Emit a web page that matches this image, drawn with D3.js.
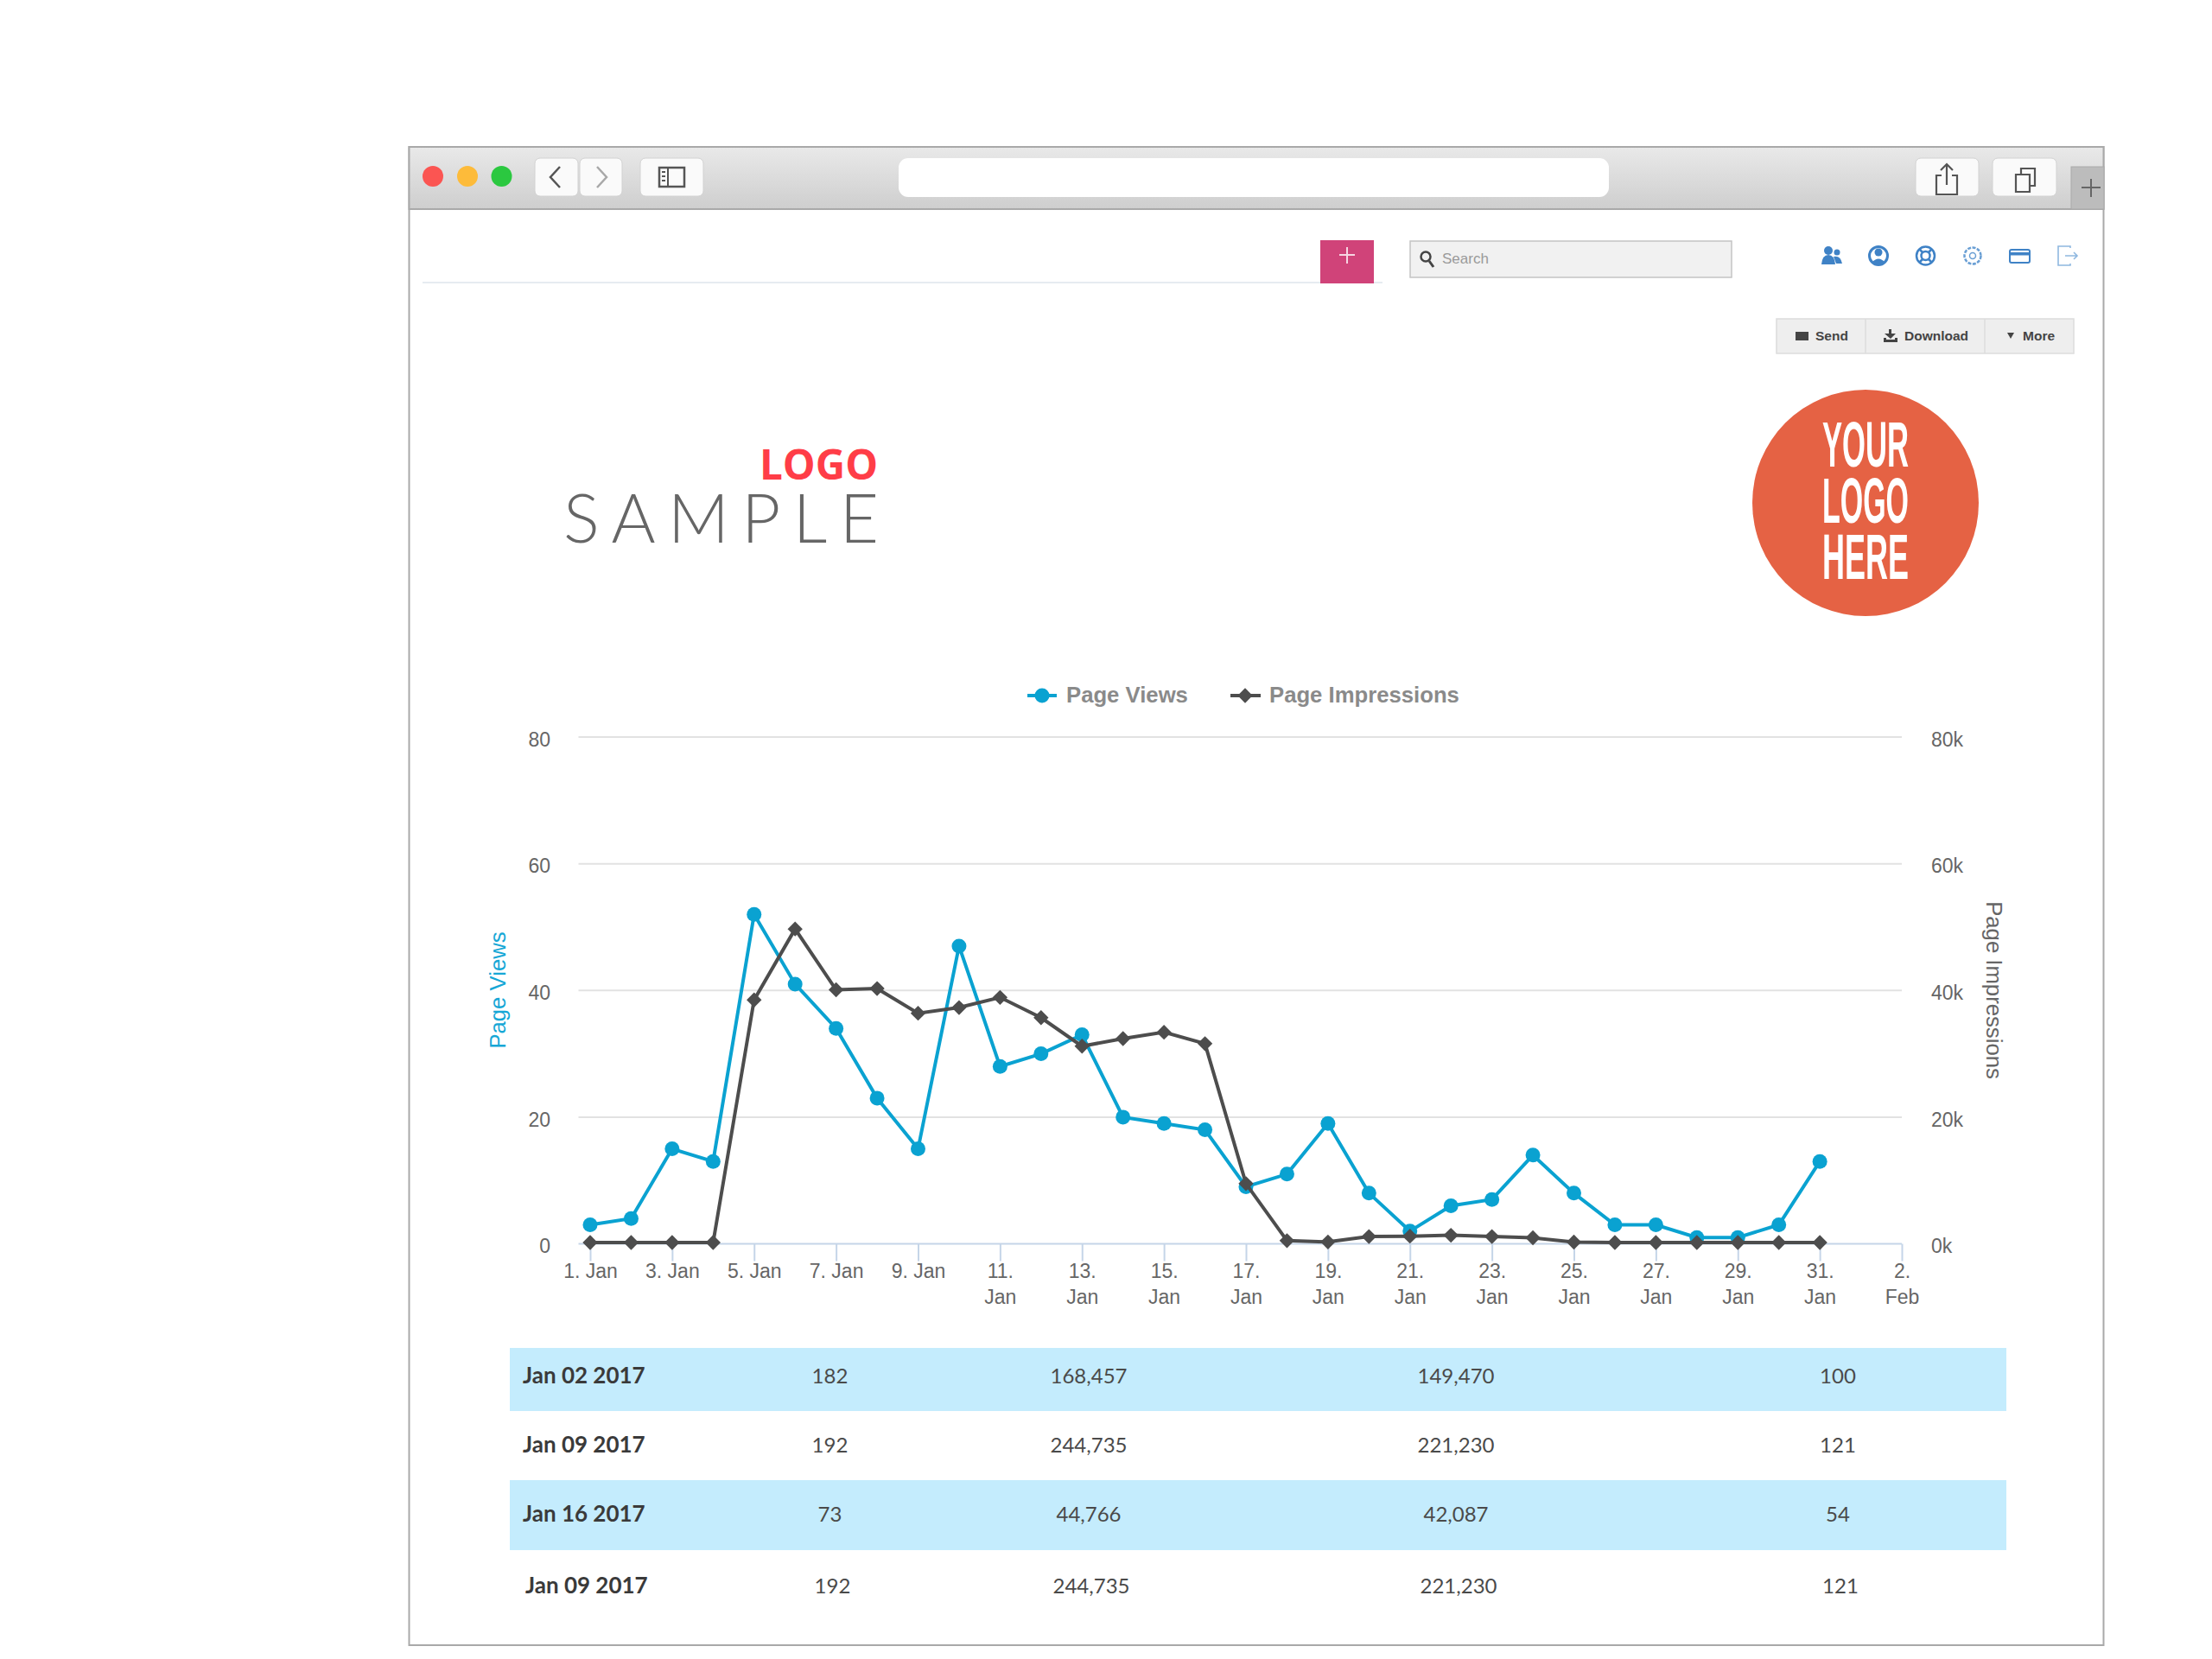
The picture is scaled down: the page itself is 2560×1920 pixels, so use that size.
<!DOCTYPE html>
<html>
<head>
<meta charset="utf-8">
<title>Page Views report</title>
<script src="https://cdn.jsdelivr.net/npm/d3@7/dist/d3.min.js"></script>
<style>
  html, body { margin: 0; padding: 0; background: #fff; }
  svg { display: block; }
  text { font-family: "Liberation Sans", Arial, sans-serif; }
  .axis path { display: none; }
</style>
</head>
<body>
<svg id="page" width="2560" height="1920"></svg>
<script>
// daily values, January 2017
const days = [1, 2, 3, 4, 5, 6, 7, 8, 9, 10, 11, 12, 13, 14, 15, 16, 17, 18, 19, 20, 21, 22, 23, 24, 25, 26, 27, 28, 29, 30, 31];
const pageViews = [3, 4, 15, 13, 52, 41, 34, 23, 15, 47, 28, 30, 33, 20, 19, 18, 9, 11, 19, 8, 2, 6, 7, 14, 8, 3, 3, 1, 1, 3, 13];
const pageImpressions = [200, 200, 200, 200, 38500, 49700, 40100, 40300, 36400, 37300, 38900, 35700, 31200, 32400, 33400, 31600, 9500, 500, 300, 1150, 1200, 1350, 1150, 950, 270, 200, 200, 200, 200, 200, 200];

const xTickDays = [1, 3, 5, 7, 9, 11, 13, 15, 17, 19, 21, 23, 25, 27, 29, 31, 33];
const xTickLabels = [['1. Jan'], ['3. Jan'], ['5. Jan'], ['7. Jan'], ['9. Jan'], ['11.', 'Jan'], ['13.', 'Jan'], ['15.', 'Jan'], ['17.', 'Jan'], ['19.', 'Jan'], ['21.', 'Jan'], ['23.', 'Jan'], ['25.', 'Jan'], ['27.', 'Jan'], ['29.', 'Jan'], ['31.', 'Jan'], ['2.', 'Feb']];
const leftTicks = [0, 20, 40, 60, 80];
const rightTicks = [0, 20000, 40000, 60000, 80000];

const tableDates = ['Jan 02 2017', 'Jan 09 2017', 'Jan 16 2017', 'Jan 09 2017'];
const tableCol1 = ['182', '192', '73', '192'];
const tableCol2 = ['168,457', '244,735', '44,766', '244,735'];
const tableCol3 = ['149,470', '221,230', '42,087', '221,230'];
const tableCol4 = ['100', '121', '54', '121'];

const blue = '#0aa2d1';
const dark = '#4d4d4d';
const svg = d3.select('#page');

// ---- browser window ----
const defs = svg.append('defs');
const grad = defs.append('linearGradient').attr('id', 'bar').attr('x1', 0).attr('x2', 0).attr('y1', 0).attr('y2', 1);
grad.append('stop').attr('offset', 0).attr('stop-color', '#e9e9e9');
grad.append('stop').attr('offset', 1).attr('stop-color', '#cecece');

svg.append('rect').attr('x', 473.5).attr('y', 170).attr('width', 1961).attr('height', 1734)
  .attr('fill', '#fff').attr('stroke', '#a9a9a9').attr('stroke-width', 2);
svg.append('rect').attr('x', 473.5).attr('y', 170).attr('width', 1961).attr('height', 72)
  .attr('fill', 'url(#bar)').attr('stroke', '#a9a9a9').attr('stroke-width', 2);

[[501, '#fb5552'], [541, '#fdbb3a'], [580.5, '#2bc840']].forEach(d => {
  svg.append('circle').attr('cx', d[0]).attr('cy', 204).attr('r', 12).attr('fill', d[1]);
});

function toolButton(x, w) {
  svg.append('rect').attr('x', x).attr('y', 183).attr('width', w).attr('height', 44).attr('rx', 6)
    .attr('fill', '#fafafa').attr('stroke', '#d2d2d2');
}
toolButton(619, 50);
toolButton(671, 49);
toolButton(741, 73);
toolButton(2217, 73);
toolButton(2306, 74);

svg.append('rect').attr('x', 1040).attr('y', 183).attr('width', 822).attr('height', 45).attr('rx', 11).attr('fill', '#fff');

const iconStroke = (sel, color, w) => sel.attr('fill', 'none').attr('stroke', color).attr('stroke-width', w);
iconStroke(svg.append('path').attr('d', 'M648 193 L637 205 L648 217'), '#555', 2.5);
iconStroke(svg.append('path').attr('d', 'M691 193 L702 205 L691 217'), '#a8a8a8', 2.5);
iconStroke(svg.append('rect').attr('x', 763).attr('y', 194).attr('width', 29).attr('height', 22), '#555', 2.5);
iconStroke(svg.append('path').attr('d', 'M773 194 V216 M766 199 h4 M766 204 h4 M766 209 h4'), '#555', 2);
iconStroke(svg.append('path').attr('d', 'M2247 203 h-6 v22 h24 v-22 h-6 M2253 214 V190 M2246 197 l7 -7 l7 7'), '#555', 2.2);
iconStroke(svg.append('path').attr('d', 'M2333 202 h16 v20 h-16 z M2339 202 v-7 h16 v20 h-6'), '#555', 2.2);

svg.append('rect').attr('x', 2397).attr('y', 193).attr('width', 38).attr('height', 49).attr('fill', '#bcbcbc').attr('stroke', '#a9a9a9');
iconStroke(svg.append('path').attr('d', 'M2420 207 V228 M2409 217 H2431'), '#666', 2);

// ---- app header ----
svg.append('line').attr('x1', 489).attr('x2', 1600).attr('y1', 327).attr('y2', 327).attr('stroke', '#e6ebf1').attr('stroke-width', 2);
svg.append('rect').attr('x', 1528).attr('y', 278).attr('width', 62).attr('height', 50).attr('fill', '#d04379');
iconStroke(svg.append('path').attr('d', 'M1559 286 V305 M1550 295 H1568'), '#f6d5e2', 2);

svg.append('rect').attr('x', 1632).attr('y', 279).attr('width', 372).attr('height', 42)
  .attr('fill', '#f1f1f1').attr('stroke', '#c4c4c4').attr('stroke-width', 1.5);
iconStroke(svg.append('circle').attr('cx', 1650).attr('cy', 297).attr('r', 5.5), '#444', 2.5);
iconStroke(svg.append('path').attr('d', 'M1654 302 L1659 309'), '#444', 3);
svg.append('text').attr('x', 1669).attr('y', 305).attr('font-size', 17).attr('fill', '#9a9a9a').text('Search');

const iconBlue = '#3f82c6';
// people
svg.append('circle').attr('cx', 2116).attr('cy', 290).attr('r', 5).attr('fill', iconBlue);
svg.append('path').attr('d', 'M2108 306 q1 -11 8 -11 q7 0 8 11 z').attr('fill', iconBlue);
svg.append('circle').attr('cx', 2126).attr('cy', 292).attr('r', 3.5).attr('fill', iconBlue);
svg.append('path').attr('d', 'M2122 297 q8 -2 10 8 h-7 z').attr('fill', iconBlue);
// account
iconStroke(svg.append('circle').attr('cx', 2174).attr('cy', 296).attr('r', 10.5), iconBlue, 3);
svg.append('circle').attr('cx', 2174).attr('cy', 292).attr('r', 4.5).attr('fill', iconBlue);
svg.append('path').attr('d', 'M2166 304 q8 -9 16 0 q-8 5 -16 0 z').attr('fill', iconBlue);
// help
iconStroke(svg.append('circle').attr('cx', 2228.5).attr('cy', 296).attr('r', 10.5), iconBlue, 2.5);
iconStroke(svg.append('circle').attr('cx', 2228.5).attr('cy', 296).attr('r', 5), iconBlue, 2.5);
iconStroke(svg.append('path').attr('d', 'M2221 288 l4 4 M2236 288 l-4 4 M2221 304 l4 -4 M2236 304 l-4 -4'), iconBlue, 2.5);
// settings
iconStroke(svg.append('circle').attr('cx', 2283).attr('cy', 296).attr('r', 9.5), '#6a9fd4', 2.5).attr('stroke-dasharray', '4 1.5');
iconStroke(svg.append('circle').attr('cx', 2283).attr('cy', 296).attr('r', 3.5), '#6a9fd4', 1.5);
// billing
iconStroke(svg.append('rect').attr('x', 2326).attr('y', 289).attr('width', 23).attr('height', 15).attr('rx', 2), iconBlue, 2);
svg.append('rect').attr('x', 2326).attr('y', 292).attr('width', 23).attr('height', 3.5).attr('fill', iconBlue);
// logout
iconStroke(svg.append('path').attr('d', 'M2396 287 V285 h-14 v22 h14 v-2 M2390 296 h14 M2400 292 l4 4 l-4 4'), '#8fb8e0', 1.6);

// action buttons
svg.append('rect').attr('x', 2056).attr('y', 369).attr('width', 344).attr('height', 40)
  .attr('fill', '#eeeeee').attr('stroke', '#dcdcdc').attr('stroke-width', 1.5);
[2159, 2297].forEach(x => {
  svg.append('line').attr('x1', x).attr('x2', x).attr('y1', 369).attr('y2', 409).attr('stroke', '#dcdcdc').attr('stroke-width', 1.5);
});
const buttonLabels = ['Send', 'Download', 'More'];
const buttonX = [2101, 2204, 2341];
buttonLabels.forEach((t, i) => {
  svg.append('text').attr('x', buttonX[i]).attr('y', 394).attr('font-size', 15.5).attr('font-weight', 700)
    .attr('fill', '#444').text(t);
});
svg.append('rect').attr('x', 2078).attr('y', 384).attr('width', 15).attr('height', 10).attr('fill', '#444');
svg.append('path').attr('d', 'M2181 386 h5 v-5 h3 v5 h5 l-6 6 z M2180 391 v5 h16 v-5 h-3 v2 h-10 v-2 z').attr('fill', '#444');
svg.append('path').attr('d', 'M2323 385 h8 l-4 7 z').attr('fill', '#444');

// ---- logos ----
svg.append('text').attr('x', 879).attr('y', 555).attr('textLength', 137).attr('lengthAdjust', 'spacingAndGlyphs')
  .attr('font-size', 48).attr('font-weight', 700).style('font-family', '"Open Sans"').attr('fill', '#ff3d47').text('LOGO');
svg.append('text').attr('x', 652).attr('y', 628).attr('textLength', 365).attr('lengthAdjust', 'spacing')
  .attr('font-size', 78).attr('font-weight', 300).style('font-family', 'Lato').attr('fill', '#666').text('SAMPLE');

svg.append('circle').attr('cx', 2159).attr('cy', 582).attr('r', 131).attr('fill', '#e56244');
const badgeWords = ['YOUR', 'LOGO', 'HERE'];
const badgeBase = [540, 605, 670];
badgeWords.forEach((t, i) => {
  svg.append('text').attr('x', 2109).attr('y', badgeBase[i]).attr('textLength', 100).attr('lengthAdjust', 'spacingAndGlyphs')
    .attr('font-size', 75).attr('font-weight', 700).style('font-family', '"Liberation Sans Narrow", "Liberation Sans"')
    .attr('fill', '#fff').text(t);
});

// ---- chart ----
const x = d3.scaleLinear().domain([1, 33]).range([683, 2201]);
const yLeft = d3.scaleLinear().domain([0, 80]).range([1439.5, 853]);
const yRight = d3.scaleLinear().domain([0, 80000]).range([1439.5, 853]);

// grid
svg.append('g').selectAll('line').data(leftTicks.slice(1)).enter().append('line')
  .attr('x1', 669.5).attr('x2', 2201)
  .attr('y1', d => yLeft(d)).attr('y2', d => yLeft(d))
  .attr('stroke', '#e2e2e2').attr('stroke-width', 2);
svg.append('line').attr('x1', 669.5).attr('x2', 2201).attr('y1', yLeft(0)).attr('y2', yLeft(0))
  .attr('stroke', '#c5d5e8').attr('stroke-width', 2);

// x axis
const xAxis = svg.append('g').attr('class', 'axis').attr('transform', 'translate(0,' + yLeft(0) + ')')
  .call(d3.axisBottom(x).tickValues(xTickDays).tickSize(20).tickFormat(''));
xAxis.selectAll('line').attr('stroke', '#c5d5e8').attr('stroke-width', 2);
xAxis.selectAll('.tick text').remove();
xAxis.selectAll('.tick').each(function(d, i) {
  const label = d3.select(this).append('text').attr('text-anchor', 'middle').attr('font-size', 23).attr('fill', '#666');
  xTickLabels[i].forEach((line, j) => {
    label.append('tspan').attr('x', 0).attr('y', 39 + j * 30).text(line);
  });
});

// y axes
const leftAxis = svg.append('g').attr('class', 'axis').attr('transform', 'translate(637,0)')
  .call(d3.axisLeft(yLeft).tickValues(leftTicks).tickSize(0).tickPadding(0));
leftAxis.selectAll('text').attr('font-size', 23).attr('fill', '#666').attr('dy', '0.44em');
const rightAxis = svg.append('g').attr('class', 'axis').attr('transform', 'translate(2235,0)')
  .call(d3.axisRight(yRight).tickValues(rightTicks).tickSize(0).tickPadding(0).tickFormat(d => d / 1000 + 'k'));
rightAxis.selectAll('text').attr('font-size', 23).attr('fill', '#666').attr('dy', '0.44em');
svg.selectAll('.axis text').style('font-family', '"Liberation Sans"');

svg.append('text').attr('transform', 'translate(585,1146) rotate(-90)').attr('text-anchor', 'middle')
  .attr('font-size', 25.7).attr('fill', '#16a7d6').text('Page Views');
svg.append('text').attr('transform', 'translate(2299,1146) rotate(90)').attr('text-anchor', 'middle')
  .attr('font-size', 25.7).attr('fill', '#666').text('Page Impressions');

// series
const viewsLine = d3.line().x((d, i) => x(days[i])).y(d => yLeft(d));
const impressionsLine = d3.line().x((d, i) => x(days[i])).y(d => yRight(d));
const diamond = d3.symbol().type(d3.symbolSquare).size(150);

svg.append('path').datum(pageViews).attr('d', viewsLine).attr('fill', 'none').attr('stroke', blue).attr('stroke-width', 4);
svg.append('g').selectAll('circle').data(pageViews).enter().append('circle')
  .attr('cx', (d, i) => x(days[i])).attr('cy', d => yLeft(d)).attr('r', 8.5).attr('fill', blue);

svg.append('path').datum(pageImpressions).attr('d', impressionsLine).attr('fill', 'none').attr('stroke', dark).attr('stroke-width', 4);
svg.append('g').selectAll('path').data(pageImpressions).enter().append('path')
  .attr('d', diamond)
  .attr('transform', (d, i) => 'translate(' + x(days[i]) + ',' + yRight(d) + ') rotate(45)')
  .attr('fill', dark);

// legend
svg.append('line').attr('x1', 1189).attr('x2', 1223).attr('y1', 805).attr('y2', 805).attr('stroke', blue).attr('stroke-width', 4);
svg.append('circle').attr('cx', 1206).attr('cy', 805).attr('r', 8.5).attr('fill', blue);
svg.append('text').attr('x', 1234).attr('y', 813).attr('font-size', 25.7).attr('font-weight', 700).attr('fill', '#8a8a8a').text('Page Views');
svg.append('line').attr('x1', 1424).attr('x2', 1459).attr('y1', 805).attr('y2', 805).attr('stroke', dark).attr('stroke-width', 4);
svg.append('path').attr('d', diamond).attr('transform', 'translate(1441,805) rotate(45)').attr('fill', dark);
svg.append('text').attr('x', 1469).attr('y', 813).attr('font-size', 25.7).attr('font-weight', 700).attr('fill', '#8a8a8a').text('Page Impressions');

// ---- table ----
const rowCenter = [1592, 1672, 1752, 1835];
const rowShift = [0, 0, 0, 3];
const colCenter = [960.5, 1260, 1685, 2127];
const rowBands = [[1560, 73], [1713, 81]];
svg.append('g').selectAll('rect').data(rowBands).enter().append('rect')
  .attr('x', 590).attr('width', 1732).attr('y', d => d[0]).attr('height', d => d[1]).attr('fill', '#c4ecfd');

tableDates.forEach((date, r) => {
  const y = rowCenter[r] + 9;
  svg.append('text').attr('x', 605 + rowShift[r]).attr('y', y).attr('font-size', 26).attr('font-weight', 700)
    .style('font-family', 'Lato').attr('fill', '#3a3a3a').text(date);
  [tableCol1, tableCol2, tableCol3, tableCol4].forEach((col, c) => {
    svg.append('text').attr('x', colCenter[c] + rowShift[r]).attr('y', y).attr('text-anchor', 'middle')
      .attr('font-size', 24).style('font-family', 'Lato').attr('fill', '#4a4a4a').text(col[r]);
  });
});
</script>
</body>
</html>
